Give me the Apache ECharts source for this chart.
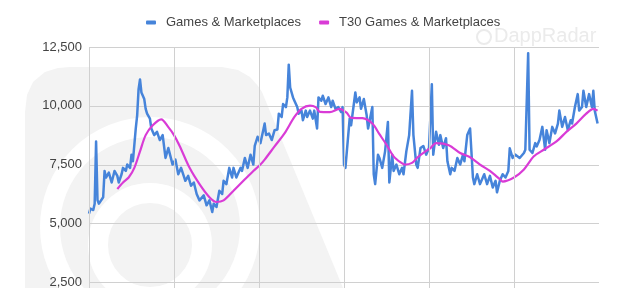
<!DOCTYPE html>
<html>
<head>
<meta charset="utf-8">
<script src="https://cdn.jsdelivr.net/npm/echarts@6/dist/echarts.min.js"></script>
<style>
html,body{margin:0;padding:0;background:#fff;width:640px;height:288px;overflow:hidden;}
#chart{width:640px;height:348px;}
</style>
</head>
<body>
<div id="chart"></div>
<script>
// ---- data ----
const seriesNames = ["Games & Marketplaces", "T30 Games & Marketplaces"];

const blueDays = [0,1,3,4,5,6,7,8,10,11,12,14,16,18,20,21,23,24,26,27,29,30,31,33,34,35,36,37,39,40,41,43,44,46,48,50,52,54,56,57,59,61,63,65,68,70,72,74,76,78,81,83,85,87,88,90,92,94,95,97,99,101,102,104,107,108,110,112,114,116,117,119,121,123,124,125,127,129,131,133,134,136,137,139,140,141,142,144,145,147,148,150,151,153,154,156,158,159,161,162,164,165,167,169,171,172,174,176,178,179,180,181,184,185,188,189,191,192,194,196,197,200,201,202,204,205,207,209,211,212,214,215,217,219,221,222,224,226,228,229,231,232,234,236,238,240,242,243,245,247,248,250,252,253,255,256,258,260,262,264,265,267,269,271,272,274,276,278,279,281,283,285,287,288,290,292,294,296,297,299,301,304,307,308,310,311,313,315,316,318,320,322,323,325,327,329,331,332,334,336,338,340,341,343,345,346,348,349,351,353,355,356,357,359];
const blueValues = [5430,5640,5580,5850,8490,6000,5850,5790,6125,7240,6960,7170,6750,7240,7030,6750,7100,7370,7240,7510,7370,7930,7650,9040,9600,10710,11125,10570,10290,9875,9670,9460,9040,8760,8900,8550,8760,7790,8210,8200,7510,7720,7100,7370,6820,7030,6610,6750,6260,5990,6200,5780,5990,5500,5850,5710,6400,6260,6820,6680,7370,6960,7370,6960,7370,7240,7790,7370,7930,7510,8300,8690,8420,8970,9250,8760,8830,8550,8970,9000,9670,9530,10080,9950,10360,11750,10780,10360,10220,9950,9670,9800,9390,9800,9530,9800,9460,9800,9040,10360,10220,10430,10080,10360,9950,10220,9875,9950,9740,9950,7510,7370,9460,9180,10570,10150,10360,9875,10290,9600,9040,9950,7100,6680,7930,7790,7370,8070,9320,6750,7930,7240,7510,7100,7370,7100,8070,8760,10640,8760,7510,7370,8210,8300,7930,8210,10920,7930,8900,8350,8760,8210,8630,7650,7100,7370,7240,7790,7510,7930,7650,8760,9040,6960,6680,7100,6680,6960,7100,6680,7030,6540,6820,6330,6820,7100,6960,7240,8200,7790,7930,7790,8000,8140,12240,8140,8000,8420,8280,8550,9110,8140,8970,8420,9110,8830,9250,9800,9110,9530,8970,9390,9250,9950,10500,9800,9950,10640,9950,10500,9950,10640,9800,9250];

const pinkDays = [20,24,28,32,36,40,45,51,56,60,64,71,78,85,90,95,102,109,116,121,124,131,138,145,150,156,160,163,170,177,182,185,193,200,205,210,215,220,223,228,232,237,241,245,254,262,269,276,283,290,292,300,307,314,321,330,337,344,351,356,359];
const pinkValues = [6470,6750,6960,7370,8070,8760,9180,9430,9100,8760,8300,7370,6680,6125,5920,5990,6400,6820,7240,7510,7720,8280,8830,9530,9875,10010,9950,9750,9740,9875,9700,9490,9480,9250,8800,8350,7860,7600,7510,7580,7820,8050,8210,8420,8330,8000,7820,7510,7240,6890,6790,6960,7300,7860,8140,8490,8900,9250,9670,9875,9800];

const xGridTicks = [0, 60, 120, 180, 240, 300];
const yMin = 0, yMax = 12500, yStep = 2500;

const zip = (a, b) => a.map((d, i) => [d, b[i]]);

const chart = echarts.init(document.getElementById('chart'), null, {renderer: 'canvas'});
chart.setOption({
  animation: false,
  backgroundColor: '#ffffff',
  textStyle: {fontFamily: '"Liberation Sans", Arial, sans-serif'},
  graphic: [
    { type: 'polygon', z: -10, silent: true,
      shape: { points: [[25,112],[27,95],[33,82],[45,72],[58,68],[70,67],[222,67],[238,70],[250,77],[258,86],[262,92],[348,300],[25,300]] },
      style: { fill: '#f3f3f3' } },
    { type: 'circle', z: -9, silent: true,
      shape: { cx: 150, cy: 227, r: 100 },
      style: { fill: 'none', stroke: '#ffffff', lineWidth: 20 } },
    { type: 'circle', z: -9, silent: true,
      shape: { cx: 150, cy: 245, r: 52 },
      style: { fill: 'none', stroke: '#ffffff', lineWidth: 20 } },
    { type: 'circle', z: -9, silent: true,
      shape: { cx: 484, cy: 37, r: 7 },
      style: { fill: 'none', stroke: '#ebebeb', lineWidth: 2 } },
    { type: 'text', z: -9, silent: true, left: 494, top: 26,
      style: { text: 'DappRadar', fill: '#ebebeb', font: '20px "Liberation Sans", Arial, sans-serif' } }
  ],
  legend: {
    top: 11, left: 141,
    itemWidth: 10, itemHeight: 4, itemGap: 18,
    icon: 'roundRect',
    textStyle: { color: '#444', fontSize: 13, padding: [0, 0, 0, 5] },
    data: seriesNames
  },
  grid: { left: 89, top: 47, right: 41, bottom: 1, containLabel: false },
  xAxis: {
    type: 'value', min: 0, max: 360, interval: 60,
    axisLine: {show: false}, axisTick: {show: false}, axisLabel: {show: false},
    splitLine: {show: false}
  },
  yAxis: {
    type: 'value', min: yMin, max: yMax, interval: yStep,
    axisLine: {show: false}, axisTick: {show: false},
    axisLabel: { color: '#444', fontSize: 13, margin: 7,
      formatter: v => v.toLocaleString('en-US') },
    splitLine: { lineStyle: { color: '#d0d0d0', width: 1 } }
  },
  series: [
    {
      name: seriesNames[0], type: 'line', data: zip(blueDays, blueValues),
      showSymbol: false, symbol: 'none',
      itemStyle: {color: '#4684da'},
      lineStyle: {color: '#4684da', width: 2.5, join: 'round'},
      markLine: {
        silent: true, symbol: 'none', animation: false,
        label: {show: false},
        lineStyle: {color: '#d0d0d0', width: 1, type: 'solid'},
        data: xGridTicks.map(t => ({xAxis: t}))
      },
      z: 2
    },
    {
      name: seriesNames[1], type: 'line', data: zip(pinkDays, pinkValues),
      showSymbol: false, symbol: 'none', smooth: 0.3,
      itemStyle: {color: '#d93bd6'},
      lineStyle: {color: '#d93bd6', width: 2.2},
      z: 3
    }
  ]
});
</script>
</body>
</html>
